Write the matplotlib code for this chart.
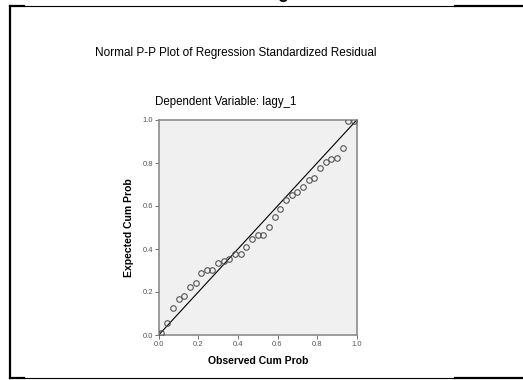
import matplotlib
matplotlib.use('Agg')
import matplotlib.pyplot as plt
from matplotlib.lines import Line2D

plt.rcParams['font.family'] = ['Liberation Sans', 'DejaVu Sans']

# observed vs expected cumulative probabilities
observed = [0.014, 0.043, 0.071, 0.100, 0.129, 0.157, 0.186, 0.214, 0.243, 0.271,
            0.300, 0.329, 0.357, 0.386, 0.414, 0.443, 0.471, 0.500, 0.529, 0.557,
            0.586, 0.614, 0.643, 0.671, 0.700, 0.729, 0.757, 0.786, 0.814, 0.843,
            0.871, 0.900, 0.929, 0.957, 0.986]
expected = [0.009, 0.054, 0.125, 0.167, 0.180, 0.221, 0.243, 0.288, 0.303, 0.303,
            0.336, 0.344, 0.353, 0.378, 0.379, 0.407, 0.447, 0.463, 0.467, 0.503,
            0.550, 0.585, 0.628, 0.650, 0.667, 0.689, 0.720, 0.729, 0.776, 0.806,
            0.819, 0.825, 0.872, 0.994, 0.994]
ticks = [0.0, 0.2, 0.4, 0.6, 0.8, 1.0]
tick_labels = ['0.0', '0.2', '0.4', '0.6', '0.8', '1.0']

W, H = 523, 380
fig = plt.figure(figsize=(W / 100, H / 100), dpi=100)

ax = fig.add_axes([158.7 / W, 45 / H, 198 / W, 215 / H])
ax.set_facecolor('#f0f0f0')
ax.plot([0, 1], [0, 1], color='black', lw=0.8, zorder=2)
ax.plot(observed, expected, 'o', mfc='none', mec='#555555', ms=4, mew=0.8, zorder=3)
ax.set_xlim(0, 1)
ax.set_ylim(0, 1)
ax.set_xticks(ticks)
ax.set_xticklabels(tick_labels)
ax.set_yticks(ticks)
ax.set_yticklabels(tick_labels)
ax.tick_params(labelsize=5.5, labelcolor='#555555', color='#555555', length=3, width=0.6, pad=1)
for s in ax.spines.values():
    s.set_color('#8c8c8c')
    s.set_linewidth(1.2)
ax.set_xlabel('Observed Cum Prob', fontsize=7.5, fontweight='bold', labelpad=6)
ax.set_ylabel('Expected Cum Prob', fontsize=7.5, fontweight='bold', labelpad=6)

fig.text(236 / W, 1 - 53 / H, 'Normal P-P Plot of Regression Standardized Residual',
         ha='center', va='center', fontsize=8.5)
fig.text(226 / W, 1 - 102 / H, 'Dependent Variable: lagy_1',
         ha='center', va='center', fontsize=8.3)
# cut-off caption glyph at the top edge
fig.text(283 / W, 1 + 2 / H, 'g', ha='center', va='baseline', fontsize=13, fontweight='bold')

# page border lines
def hline(x0, x1, y, lw):
    fig.add_artist(Line2D([x0 / W, x1 / W], [1 - y / H, 1 - y / H], color='black', lw=lw,
                          transform=fig.transFigure))

hline(10, 24, 6, 1.6)
hline(24, 455, 6, 0.8)
hline(455, 523, 6, 1.6)
hline(10, 24, 378, 1.6)
hline(24, 455, 378, 0.8)
hline(455, 523, 378, 1.6)
fig.add_artist(Line2D([10 / W, 10 / W], [1 - 6 / H, 1 - 378 / H], color='black', lw=1.6,
                      transform=fig.transFigure))

fig.savefig('out.png', dpi=100, facecolor='white')
